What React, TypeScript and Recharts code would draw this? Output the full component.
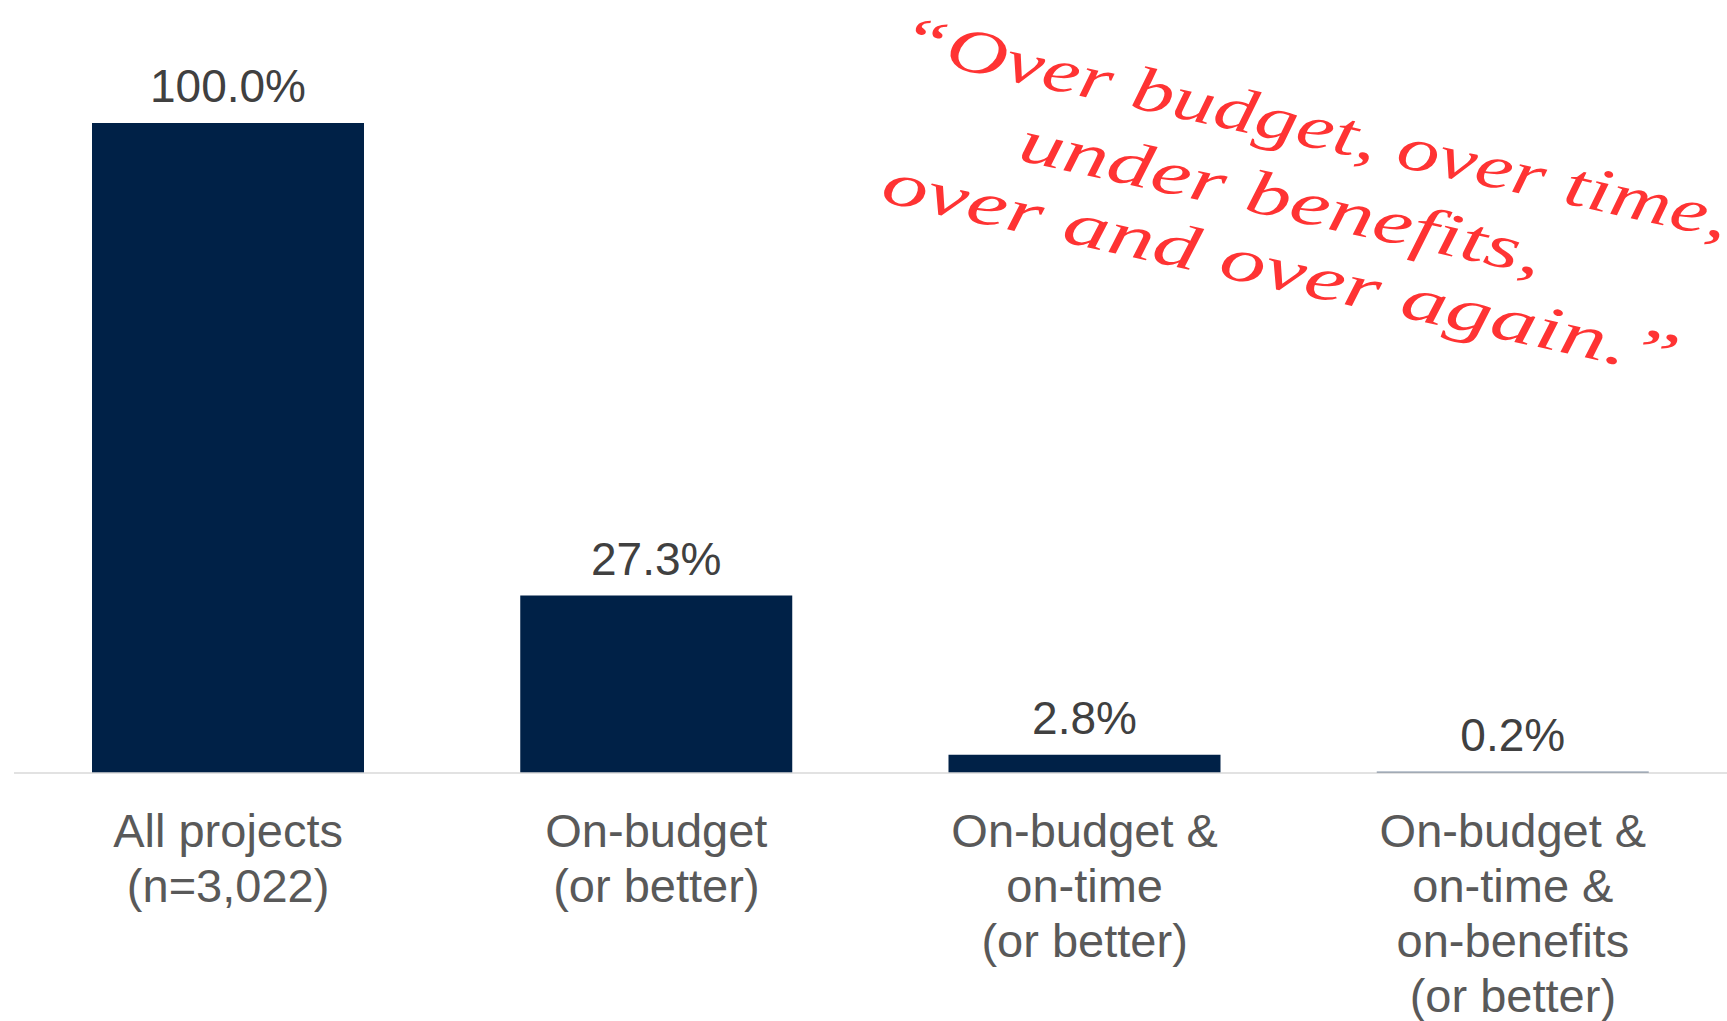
import { BarChart, Bar, XAxis, YAxis, LabelList } from "recharts";

// categories and values
const categories = [
  "All projects\n(n=3,022)",
  "On-budget\n(or better)",
  "On-budget &\non-time\n(or better)",
  "On-budget &\non-time &\non-benefits\n(or better)",
];
const shares = [100.0, 27.3, 2.8, 0.2];
const quoteLines = [
  "\u201COver budget, over time,",
  "under benefits,",
  "over and over again.\u201D",
];

const data = categories.map((name, i) => ({ name, share: shares[i] }));

const FONT = "'Liberation Sans', Arial, sans-serif";

// multi-line category tick
function CategoryTick(props: any) {
  const { x, y, payload } = props;
  const lines = String(payload.value).split("\n");
  return (
    <text
      x={x}
      y={y + 74}
      textAnchor="middle"
      fill="#595959"
      fontSize={47}
      fontFamily={FONT}
    >
      {lines.map((l, i) => (
        <tspan key={i} x={x} dy={i === 0 ? 0 : 55}>
          {l}
        </tspan>
      ))}
    </text>
  );
}

// slanted red quote over the chart (in the rotated frame)
const quoteLayout = [
  { x: 888, y: -140, len: 847 },
  { x: 1027, y: -64, len: 534 },
  { x: 902, y: 6, len: 814 },
];

export default function App() {
  return (
    <div style={{ position: "absolute", left: 0, top: 0, width: 1727, height: 1021, background: "#fff", overflow: "hidden" }}>
      <BarChart
        width={1727}
        height={1021}
        data={data}
        margin={{ top: 123, right: 0, left: 14, bottom: 0 }}
      >
        <YAxis hide domain={[0, 100]} />
        <XAxis
          dataKey="name"
          height={248}
          tickSize={0}
          tickMargin={0}
          interval={0}
          axisLine={{ stroke: "#d9d9d9", strokeWidth: 1.5 }}
          tickLine={false}
          tick={<CategoryTick />}
        />
        <Bar dataKey="share" fill="#002147" barSize={272} isAnimationActive={false}>
          <LabelList
            dataKey="share"
            position="top"
            offset={21}
            fill="#404040"
            fontSize={46}
            fontFamily={FONT}
            formatter={(v: any) => `${Number(v).toFixed(1)}%`}
          />
        </Bar>
      </BarChart>
      <svg
        width={1727}
        height={1021}
        style={{ position: "absolute", left: 0, top: 0, pointerEvents: "none" }}
      >
        <g transform="rotate(12.5)">
          {quoteLines.map((line, i) => (
            <text
              key={i}
              x={quoteLayout[i].x}
              y={quoteLayout[i].y}
              textLength={quoteLayout[i].len}
              lengthAdjust="spacingAndGlyphs"
              fill="#ff3333"
              fontSize={62}
              fontStyle="italic"
              fontFamily="'Liberation Serif', 'DejaVu Serif', serif"
            >
              {line}
            </text>
          ))}
        </g>
      </svg>
    </div>
  );
}
